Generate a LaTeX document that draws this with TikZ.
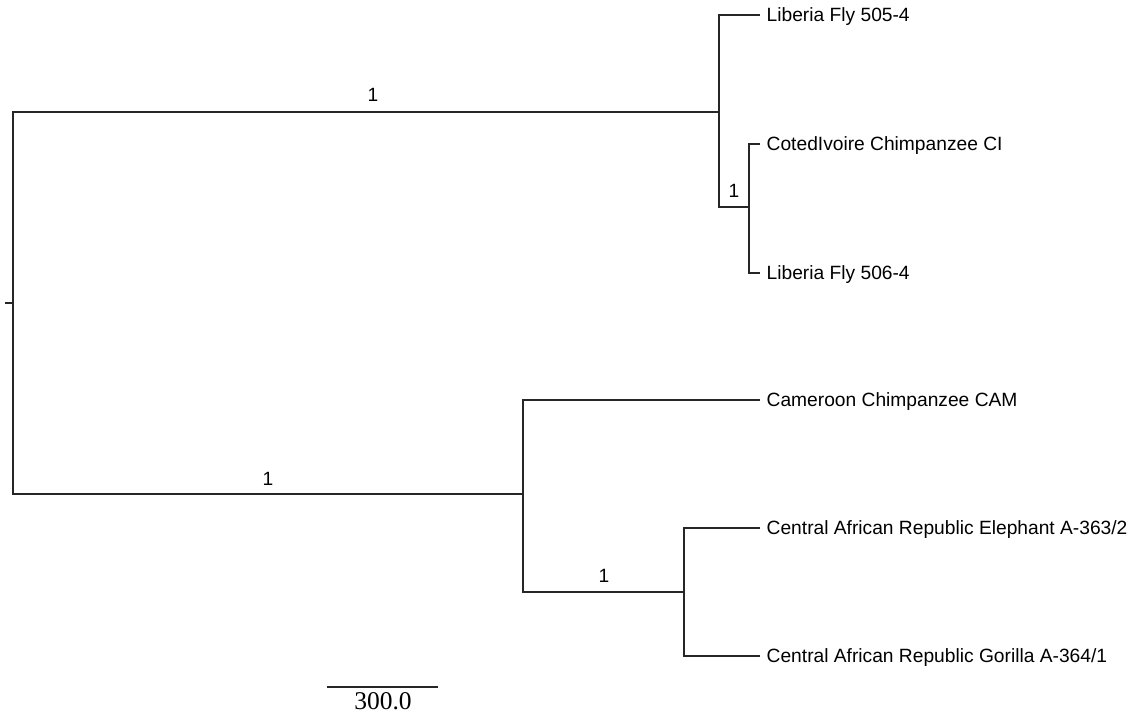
\documentclass[tikz,border=0pt]{standalone}
\usepackage{fontspec}
\setmainfont{Liberation Sans}
\newfontfamily\scalefont{Liberation Serif}
\begin{document}
\begin{tikzpicture}[x=1bp,y=-1bp,
  branch/.style={draw=black!85, line width=1.1bp},
  leaf/.style={anchor=west, inner xsep=6.5bp, inner ysep=0pt, text height=13.7bp, text depth=0pt, font=\fontsize{19.2bp}{23bp}\selectfont},
  support/.style={anchor=base, inner sep=0pt, font=\fontsize{19.2bp}{23bp}\selectfont},
  scalelab/.style={anchor=base, inner sep=0pt, font=\scalefont\fontsize{25.5bp}{28bp}\selectfont}]
\useasboundingbox (0,0) rectangle (1136,715);
% internal nodes
\coordinate (stub) at (5,303);
\coordinate (root) at (13,303);
\coordinate (nA) at (719,112);
\coordinate (nB) at (749,207);
\coordinate (nC) at (523,494);
\coordinate (nD) at (684,592);
% leaves
\node[leaf] (t1) at (760,15) {Liberia Fly 505-4};
\node[leaf] (t2) at (760,144) {CotedIvoire Chimpanzee CI};
\node[leaf] (t3) at (760,273) {Liberia Fly 506-4};
\node[leaf] (t4) at (760,400) {Cameroon Chimpanzee CAM};
\node[leaf] (t5) at (760,528) {Central African Republic Elephant A-363/2};
\node[leaf] (t6) at (760,656) {Central African Republic Gorilla A-364/1};
% branches
\draw[branch] (stub) -- (root);
\draw[branch] (root) |- (nA);
\draw[branch] (root) |- (nC);
\draw[branch] (nA) |- (t1.west);
\draw[branch] (nA) |- (nB);
\draw[branch] (nB) |- (t2.west);
\draw[branch] (nB) |- (t3.west);
\draw[branch] (nC) |- (t4.west);
\draw[branch] (nC) |- (nD);
\draw[branch] (nD) |- (t5.west);
\draw[branch] (nD) |- (t6.west);
% support values
\node[support] (s1) at (373,102) {1};
\node[support] (s2) at (734,198) {1};
\node[support] (s3) at (268,485) {1};
\node[support] (s4) at (604,582) {1};
% scale bar
\coordinate (sb1) at (327,687);
\coordinate (sb2) at (438,687);
\draw[branch] (sb1) -- (sb2);
\node[scalelab] (sbl) at (383,709) {300.0};
\end{tikzpicture}
\end{document}
